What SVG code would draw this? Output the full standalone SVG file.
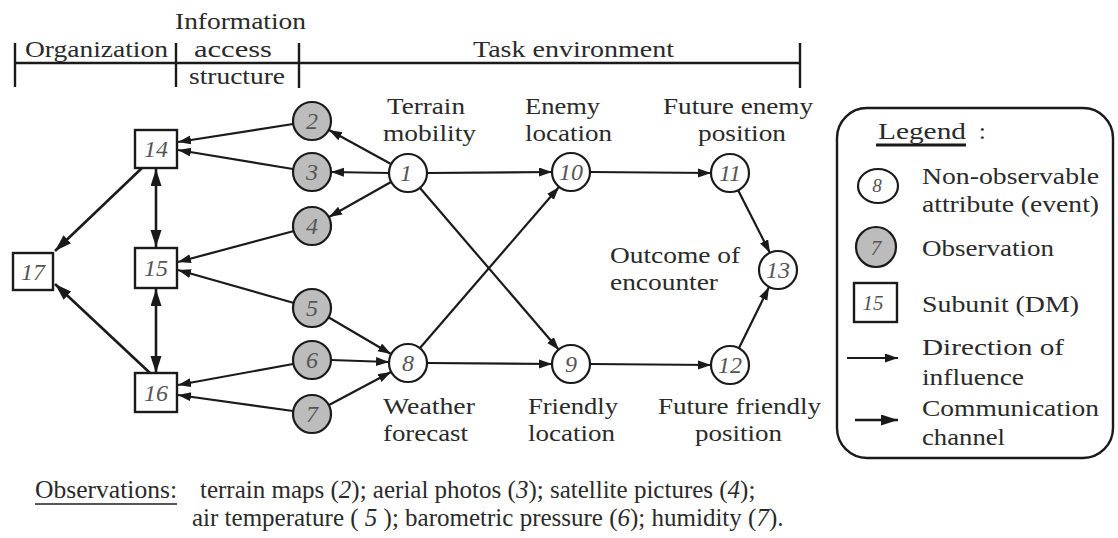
<svg xmlns="http://www.w3.org/2000/svg" width="1118" height="538" viewBox="0 0 1118 538">
<style>
text{font-family:'Liberation Serif','Times New Roman',serif;fill:#2a2a2a;font-size:24px}
.num{font-style:italic;font-size:24px;fill:#555;text-anchor:middle}
.w{fill:#fff;stroke:#1a1a1a;stroke-width:2.2}
.g{fill:#bcbcbc;stroke:#1a1a1a;stroke-width:2.2}
.sq{fill:#fff;stroke:#1a1a1a;stroke-width:2.4}
.e{stroke:#1a1a1a;stroke-width:2.2;fill:none;marker-end:url(#a)}
.c{stroke:#1a1a1a;stroke-width:2.6;fill:none;marker-end:url(#c)}
.cc{stroke:#1a1a1a;stroke-width:2.6;fill:none;marker-end:url(#c);marker-start:url(#cs)}
.hd{stroke:#1a1a1a;stroke-width:2.4;fill:none}
.ft{font-size:25px}
</style>
<defs>
<marker id="a" markerUnits="userSpaceOnUse" markerWidth="14" markerHeight="10" refX="13" refY="4.5" orient="auto"><path d="M0,0 L13,4.5 L0,9 z" fill="#1a1a1a"/></marker>
<marker id="c" markerUnits="userSpaceOnUse" markerWidth="18" markerHeight="12" refX="17" refY="5.5" orient="auto"><path d="M0,0 L17,5.5 L0,11 z" fill="#1a1a1a"/></marker>
<marker id="cs" markerUnits="userSpaceOnUse" markerWidth="18" markerHeight="12" refX="17" refY="5.5" orient="auto-start-reverse"><path d="M0,0 L17,5.5 L0,11 z" fill="#1a1a1a"/></marker>
</defs>

<g id="header">
<line class="hd" x1="15" y1="63" x2="800" y2="63"/>
<line class="hd" x1="15" y1="43" x2="15" y2="87"/>
<line class="hd" x1="176" y1="43" x2="176" y2="87"/>
<line class="hd" x1="299" y1="43" x2="299" y2="88"/>
<line class="hd" x1="800" y1="43" x2="800" y2="88"/>
<text x="25" y="57" textLength="143" lengthAdjust="spacingAndGlyphs">Organization</text>
<text x="175" y="29" textLength="131" lengthAdjust="spacingAndGlyphs">Information</text>
<text x="194" y="57" textLength="78" lengthAdjust="spacingAndGlyphs">access</text>
<text x="189" y="84" textLength="96" lengthAdjust="spacingAndGlyphs">structure</text>
<text x="473" y="57" textLength="201" lengthAdjust="spacingAndGlyphs">Task environment</text>
</g>

<g id="connectors">
<line class="e" x1="293" y1="124" x2="178" y2="142"/>
<line class="e" x1="293" y1="169" x2="178" y2="150"/>
<line class="e" x1="391" y1="164" x2="329" y2="130"/>
<line class="e" x1="389" y1="173" x2="331" y2="172"/>
<line class="e" x1="391" y1="182" x2="329" y2="217"/>
<line class="e" x1="294" y1="231" x2="178" y2="262"/>
<line class="e" x1="294" y1="303" x2="178" y2="270"/>
<line class="e" x1="328" y1="317" x2="391" y2="354"/>
<line class="e" x1="331" y1="360" x2="389" y2="362"/>
<line class="e" x1="293" y1="364" x2="178" y2="385"/>
<line class="e" x1="293" y1="411" x2="178" y2="395"/>
<line class="e" x1="329" y1="405" x2="391" y2="372"/>
<line class="c" x1="142" y1="168" x2="55" y2="251"/>
<line class="c" x1="150" y1="373" x2="55" y2="284"/>
<line class="cc" x1="156" y1="169" x2="156" y2="247"/>
<line class="cc" x1="156" y1="289" x2="156" y2="373"/>
<line class="e" x1="427" y1="173" x2="552" y2="172"/>
<line class="e" x1="590" y1="172" x2="711" y2="173"/>
<line class="e" x1="420" y1="188" x2="559" y2="350"/>
<line class="e" x1="420" y1="348" x2="559" y2="187"/>
<line class="e" x1="427" y1="363" x2="552" y2="364"/>
<line class="e" x1="590" y1="364" x2="711" y2="365"/>
<line class="e" x1="738" y1="190" x2="770" y2="253"/>
<line class="e" x1="739" y1="348" x2="769" y2="287"/>
</g>

<g id="n1"><circle class="w" cx="408" cy="173" r="19"/><text class="num" x="406" y="181">1</text></g>
<g id="n2"><circle class="g" cx="312" cy="121" r="19"/><text class="num" x="312" y="129">2</text></g>
<g id="n3"><circle class="g" cx="312" cy="172" r="19"/><text class="num" x="312" y="180">3</text></g>
<g id="n4"><circle class="g" cx="312" cy="226" r="19"/><text class="num" x="312" y="234">4</text></g>
<g id="n5"><circle class="g" cx="312" cy="308" r="19"/><text class="num" x="312" y="316">5</text></g>
<g id="n6"><circle class="g" cx="312" cy="360" r="19"/><text class="num" x="312" y="368">6</text></g>
<g id="n7"><circle class="g" cx="312" cy="414" r="19"/><text class="num" x="312" y="422">7</text></g>
<g id="n8"><circle class="w" cx="408" cy="363" r="19"/><text class="num" x="408" y="371">8</text></g>
<g id="n9"><circle class="w" cx="571" cy="364" r="19"/><text class="num" x="571" y="372">9</text></g>
<g id="n10"><circle class="w" cx="571" cy="172" r="19"/><text class="num" x="571" y="180">10</text></g>
<g id="n11"><circle class="w" cx="730" cy="173" r="19"/><text class="num" x="730" y="181">11</text></g>
<g id="n12"><circle class="w" cx="730" cy="365" r="19"/><text class="num" x="730" y="373">12</text></g>
<g id="n13"><circle class="w" cx="778" cy="270" r="19"/><text class="num" x="778" y="278">13</text></g>
<g id="n14"><rect class="sq" x="135" y="130" width="42" height="38"/><text class="num" x="156" y="157">14</text></g>
<g id="n15"><rect class="sq" x="135" y="248" width="42" height="40"/><text class="num" x="156" y="276">15</text></g>
<g id="n16"><rect class="sq" x="135" y="373" width="42" height="39"/><text class="num" x="156" y="401">16</text></g>
<g id="n17"><rect class="sq" x="13" y="253" width="40" height="37"/><text class="num" x="33" y="280">17</text></g>

<g id="labels">
<text x="387" y="114" textLength="78" lengthAdjust="spacingAndGlyphs">Terrain</text>
<text x="383" y="141" textLength="93" lengthAdjust="spacingAndGlyphs">mobility</text>
<text x="525" y="114" textLength="75" lengthAdjust="spacingAndGlyphs">Enemy</text>
<text x="525" y="141" textLength="87" lengthAdjust="spacingAndGlyphs">location</text>
<text x="663" y="114" textLength="150" lengthAdjust="spacingAndGlyphs">Future enemy</text>
<text x="698" y="141" textLength="88" lengthAdjust="spacingAndGlyphs">position</text>
<text x="610" y="263" textLength="130" lengthAdjust="spacingAndGlyphs">Outcome of</text>
<text x="610" y="290" textLength="108" lengthAdjust="spacingAndGlyphs">encounter</text>
<text x="383" y="414" textLength="92" lengthAdjust="spacingAndGlyphs">Weather</text>
<text x="383" y="441" textLength="85" lengthAdjust="spacingAndGlyphs">forecast</text>
<text x="528" y="414" textLength="90" lengthAdjust="spacingAndGlyphs">Friendly</text>
<text x="528" y="441" textLength="87" lengthAdjust="spacingAndGlyphs">location</text>
<text x="658" y="414" textLength="163" lengthAdjust="spacingAndGlyphs">Future friendly</text>
<text x="695" y="441" textLength="87" lengthAdjust="spacingAndGlyphs">position</text>
</g>

<g id="legend">
<rect x="837" y="108" width="276" height="350" rx="30" ry="30" fill="none" stroke="#1a1a1a" stroke-width="2.4"/>
<text x="878" y="139" textLength="88" lengthAdjust="spacingAndGlyphs">Legend</text>
<line x1="876" y1="145" x2="966" y2="145" stroke="#1a1a1a" stroke-width="3"/>
<text x="979" y="139">:</text>
<ellipse class="w" cx="878" cy="186" rx="20" ry="17"/><text class="num" x="877" y="192" style="font-size:19px">8</text>
<text x="922" y="184" textLength="177" lengthAdjust="spacingAndGlyphs">Non-observable</text>
<text x="922" y="212" textLength="177" lengthAdjust="spacingAndGlyphs">attribute (event)</text>
<circle class="g" cx="876" cy="247" r="20"/><text class="num" x="876" y="255" style="font-size:21px">7</text>
<text x="922" y="256" textLength="132" lengthAdjust="spacingAndGlyphs">Observation</text>
<rect class="sq" x="854" y="283" width="43" height="39"/><text class="num" x="873" y="310" style="font-size:21px">15</text>
<text x="922" y="312" textLength="157" lengthAdjust="spacingAndGlyphs">Subunit (DM)</text>
<line class="e" x1="847" y1="358" x2="898" y2="358"/>
<text x="922" y="355" textLength="142" lengthAdjust="spacingAndGlyphs">Direction of</text>
<text x="922" y="385" textLength="102" lengthAdjust="spacingAndGlyphs">influence</text>
<line class="c" x1="855" y1="420" x2="898" y2="420"/>
<text x="922" y="416" textLength="177" lengthAdjust="spacingAndGlyphs">Communication</text>
<text x="922" y="445" textLength="83" lengthAdjust="spacingAndGlyphs">channel</text>
</g>

<g id="footnote">
<text class="ft" x="35" y="498" textLength="142" lengthAdjust="spacingAndGlyphs">Observations:</text>
<line x1="35" y1="504" x2="177" y2="504" stroke="#555" stroke-width="2"/>
<text class="ft" x="200" y="498">terrain maps (<tspan font-style="italic">2</tspan>); aerial photos (<tspan font-style="italic">3</tspan>); satellite pictures (<tspan font-style="italic">4</tspan>);</text>
<text class="ft" x="192" y="526">air temperature ( <tspan font-style="italic">5</tspan> ); barometric pressure (<tspan font-style="italic">6</tspan>); humidity (<tspan font-style="italic">7</tspan>).</text>
</g>
</svg>
